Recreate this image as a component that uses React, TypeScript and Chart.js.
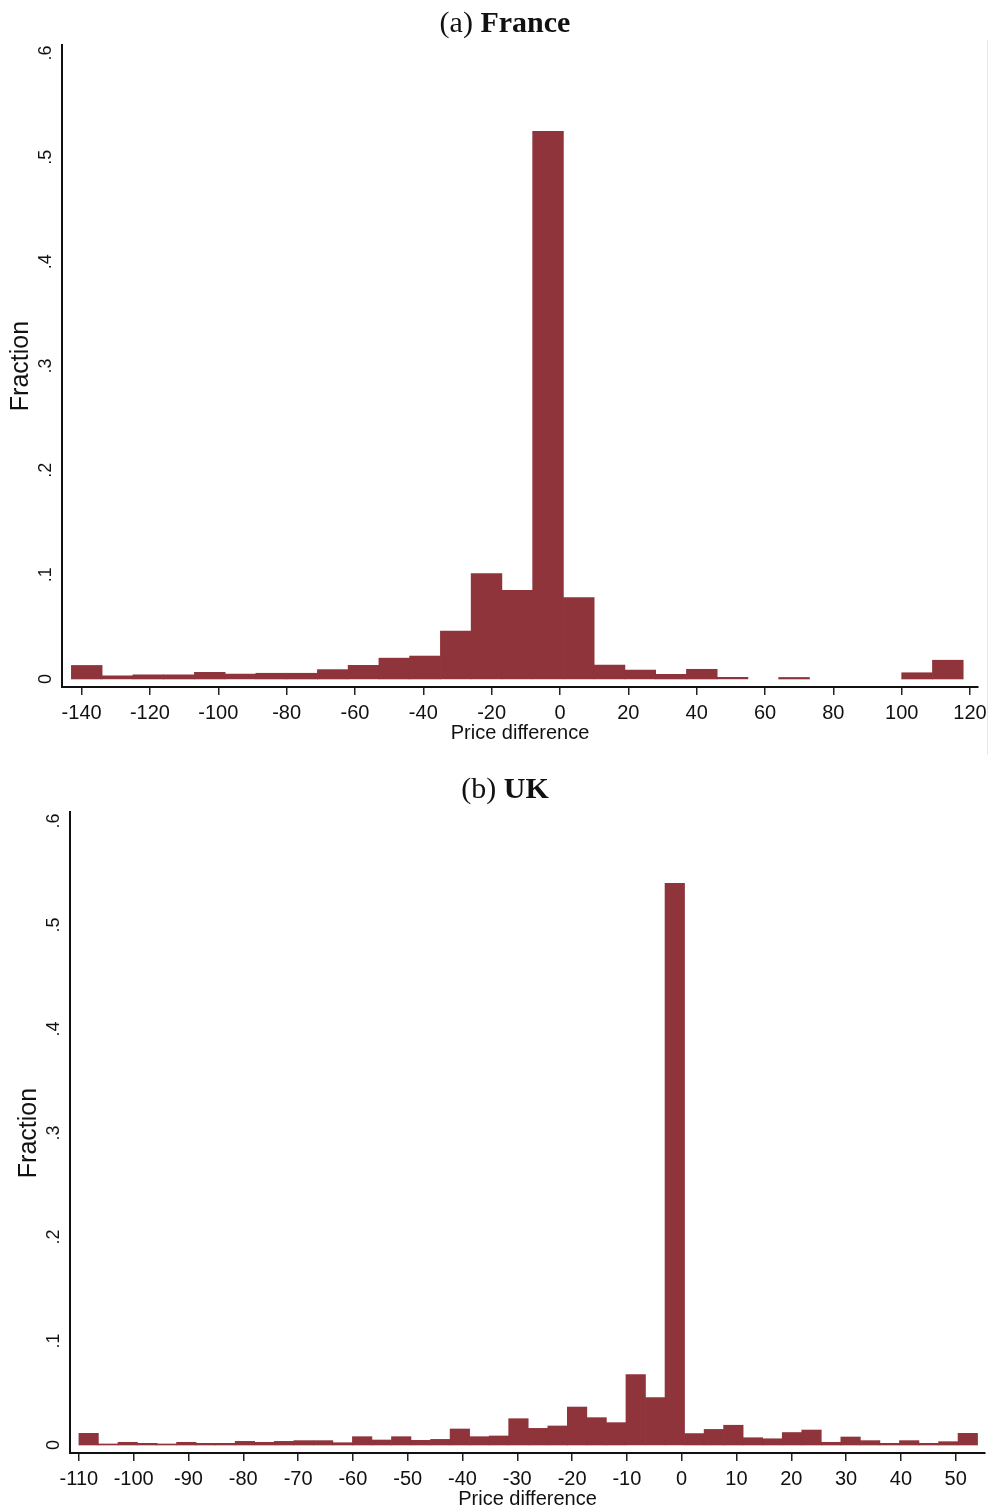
import React, { useEffect, useRef } from 'react';
import { Chart, registerables } from 'chart.js';

Chart.register(...registerables);

const BAR_COLOR = '#8f343b';
const SANS = '"Liberation Sans", Arial, sans-serif';
const SERIF = '"Liberation Serif", "Times New Roman", serif';

// ---------- France ----------
const franceBinLeft = [-143, -134, -125, -116, -107, -98, -89, -80, -71, -62, -53, -44, -35, -26, -17, -8, 1, 10, 19, 28, 37, 46, 55, 64, 73, 82, 91, 100, 109];
const franceBinWidth = 9;
const franceFraction = [0.013, 0.003, 0.004, 0.004, 0.0064, 0.0048, 0.0055, 0.0055, 0.009, 0.013, 0.02, 0.022, 0.046, 0.101, 0.085, 0.525, 0.078, 0.0134, 0.0086, 0.0045, 0.0093, 0.0015, 0, 0.0015, 0, 0, 0, 0.006, 0.018];
const franceXTicks = [-140, -120, -100, -80, -60, -40, -20, 0, 20, 40, 60, 80, 100, 120];

// ---------- UK ----------
const ukBinLeft = [-110, -106.43, -102.87, -99.3, -95.74, -92.17, -88.61, -85.04, -81.48, -77.91, -74.35, -70.78, -67.22, -63.65, -60.09, -56.52, -52.96, -49.39, -45.83, -42.26, -38.7, -35.13, -31.57, -28, -24.43, -20.87, -17.3, -13.74, -10.17, -6.61, -3.04, 0.52, 4.09, 7.65, 11.22, 14.78, 18.35, 21.91, 25.48, 29.04, 32.61, 36.17, 39.74, 43.3, 46.87, 50.43];
const ukBinWidth = 3.565;
const ukFraction = [0.0112, 0.001, 0.0026, 0.0016, 0.001, 0.0026, 0.0016, 0.0016, 0.0035, 0.0026, 0.0035, 0.0042, 0.0042, 0.0022, 0.008, 0.0048, 0.008, 0.0045, 0.0054, 0.0154, 0.008, 0.0087, 0.0253, 0.016, 0.0183, 0.0365, 0.0263, 0.0215, 0.0676, 0.0455, 0.54, 0.011, 0.015, 0.019, 0.007, 0.006, 0.012, 0.0144, 0.0026, 0.0077, 0.0042, 0.0016, 0.0042, 0.0016, 0.0032, 0.0112];
const ukXTicks = [-110, -100, -90, -80, -70, -60, -50, -40, -30, -20, -10, 0, 10, 20, 30, 40, 50];

// ---------- shared ----------
const yTicks = [0, 0.1, 0.2, 0.3, 0.4, 0.5, 0.6];
const yTickLabels = ['0', '.1', '.2', '.3', '.4', '.5', '.6'];
const yTitle = 'Fraction';
const xTitle = 'Price difference';

type PanelCfg = {
  top: number;
  W: number;
  H: number;
  area: { left: number; right: number; top: number; bottom: number };
  xMin: number;
  xMax: number;
  yMin: number;
  yMax: number;
  binLeft: number[];
  binWidth: number;
  values: number[];
  xTicks: number[];
  titlePrefix: string;
  titleBold: string;
  titleCx: number;
  titleCy: number;
};

const panels: PanelCfg[] = [
  {
    top: 0, W: 990, H: 760,
    area: { left: 62, right: 978, top: 45, bottom: 687 },
    xMin: -145.74, xMax: 122.33, yMin: -0.00767, yMax: 0.60767,
    binLeft: franceBinLeft, binWidth: franceBinWidth, values: franceFraction, xTicks: franceXTicks,
    titlePrefix: '(a) ', titleBold: 'France', titleCx: 505, titleCy: 24,
  },
  {
    top: 760, W: 990, H: 750,
    area: { left: 70, right: 985, top: 52, bottom: 693 },
    xMin: -111.62, xMax: 55.35, yMin: -0.00769, yMax: 0.60865,
    binLeft: ukBinLeft, binWidth: ukBinWidth, values: ukFraction, xTicks: ukXTicks,
    titlePrefix: '(b) ', titleBold: 'UK', titleCx: 505, titleCy: 30,
  },
];

function Panel({ cfg }: { cfg: PanelCfg }) {
  const ref = useRef<HTMLCanvasElement | null>(null);
  useEffect(() => {
    if (!ref.current) return;
    const data = cfg.binLeft.map((l, i) => ({ x: l + cfg.binWidth / 2, y: cfg.values[i] }));
    const overlay = {
      id: 'overlay',
      afterDraw(chart: any) {
        const { ctx, chartArea, scales } = chart;
        const ys = scales.y;
        ctx.save();
        ctx.fillStyle = '#111';
        // y tick labels (rotated)
        ctx.font = `18px ${SANS}`;
        ctx.textAlign = 'center';
        ctx.textBaseline = 'middle';
        yTicks.forEach((v, i) => {
          const py = ys.getPixelForValue(v);
          ctx.save();
          ctx.translate(chartArea.left - 16, py);
          ctx.rotate(-Math.PI / 2);
          ctx.fillText(yTickLabels[i], 0, 0);
          ctx.restore();
        });
        // y title
        ctx.font = `25px ${SANS}`;
        const mid = (ys.getPixelForValue(yTicks[0]) + ys.getPixelForValue(yTicks[yTicks.length - 1])) / 2;
        ctx.save();
        ctx.translate(chartArea.left - 41, mid);
        ctx.rotate(-Math.PI / 2);
        ctx.fillText(yTitle, 0, 0);
        ctx.restore();
        // x title
        ctx.font = `20px ${SANS}`;
        ctx.fillText(xTitle, (chartArea.left + chartArea.right) / 2, chartArea.bottom + 46);
        // panel title
        const fNorm = `30px ${SERIF}`;
        const fBold = `bold 30px ${SERIF}`;
        ctx.font = fNorm;
        const w1 = ctx.measureText(cfg.titlePrefix).width;
        ctx.font = fBold;
        const w2 = ctx.measureText(cfg.titleBold).width;
        const x0 = cfg.titleCx - (w1 + w2) / 2;
        ctx.textAlign = 'left';
        ctx.font = fNorm;
        ctx.fillText(cfg.titlePrefix, x0, cfg.titleCy);
        ctx.font = fBold;
        ctx.fillText(cfg.titleBold, x0 + w1, cfg.titleCy);
        ctx.restore();
      },
    };
    const chart = new Chart(ref.current, {
      type: 'bar',
      data: {
        datasets: [
          {
            data,
            backgroundColor: BAR_COLOR,
            borderWidth: 0,
            barPercentage: 1,
            categoryPercentage: 1,
            inflateAmount: (c: any) => (c.raw && c.raw.y > 0 ? 0.33 : 0),
          } as any,
        ],
      },
      options: {
        responsive: false,
        animation: false,
        devicePixelRatio: 1,
        layout: {
          padding: { left: 0, top: cfg.area.top, right: cfg.W - cfg.area.right, bottom: 0 },
        },
        plugins: { legend: { display: false }, tooltip: { enabled: false }, title: { display: false } },
        scales: {
          x: {
            type: 'linear',
            min: cfg.xMin,
            max: cfg.xMax,
            bounds: 'data',
            offset: false,
            grid: { display: true, offset: false, drawOnChartArea: false, drawTicks: true, tickLength: 8, color: '#222', lineWidth: 1.5 },
            border: { display: true, color: '#111', width: 2 },
            ticks: {
              color: '#111',
              font: { family: SANS, size: 20 },
              padding: 6,
              maxRotation: 0,
              minRotation: 0,
              autoSkip: false,
              callback: (v: any) => String(v),
            },
            afterBuildTicks: (s: any) => {
              s.ticks = cfg.xTicks.map((v) => ({ value: v }));
            },
            afterFit: (s: any) => {
              s.height = cfg.H - cfg.area.bottom;
              s.paddingLeft = 0;
              s.paddingRight = 0;
            },
          },
          y: {
            type: 'linear',
            min: cfg.yMin,
            max: cfg.yMax,
            bounds: 'data',
            grid: { display: false },
            border: { display: true, color: '#111', width: 2 },
            ticks: { display: false },
            afterBuildTicks: (s: any) => {
              s.ticks = yTicks.map((v) => ({ value: v }));
            },
            afterFit: (s: any) => {
              s.width = cfg.area.left;
              s.paddingTop = 0;
              s.paddingBottom = 0;
            },
          },
        },
      } as any,
      plugins: [overlay],
    });
    return () => chart.destroy();
  }, [cfg]);
  return (
    <canvas
      ref={ref}
      width={cfg.W}
      height={cfg.H}
      style={{ position: 'absolute', left: 0, top: cfg.top, width: cfg.W, height: cfg.H, display: 'block' }}
    />
  );
}

export default function App() {
  return (
    <div style={{ position: 'absolute', left: 0, top: 0, width: 990, height: 1510, background: '#fff', overflow: 'hidden' }}>
      {panels.map((p, i) => (
        <Panel key={i} cfg={p} />
      ))}
      <div style={{ position: 'absolute', left: 987, top: 40, width: 1, height: 715, background: '#e6e6e6' }} />
    </div>
  );
}
